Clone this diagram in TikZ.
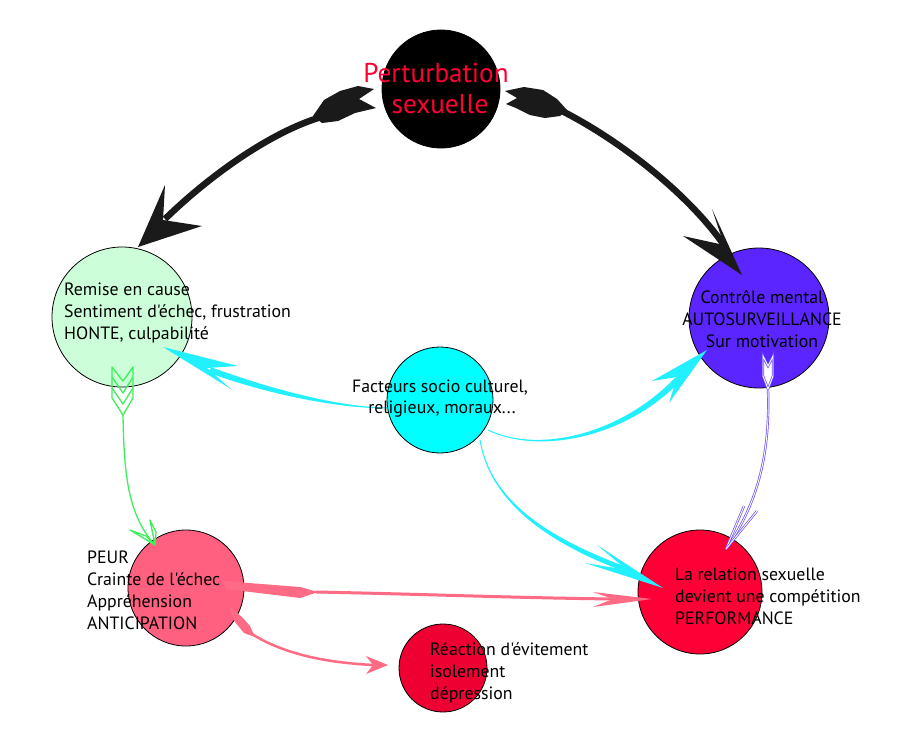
\documentclass[tikz,border=0pt]{standalone}
\usepackage{fontspec}
\newfontfamily\labelfont{PT Sans}
\usetikzlibrary{calc}
\definecolor{titlered}{HTML}{FF0033}
\definecolor{mint}{HTML}{CCFFD9}
\definecolor{violet1}{HTML}{5B25FF}
\definecolor{cyan1}{HTML}{00FFFF}
\definecolor{rose}{HTML}{FF6080}
\definecolor{rosearrow}{HTML}{FF6B85}
\definecolor{crimson}{HTML}{FF0036}
\definecolor{crimson2}{HTML}{EE0033}
\definecolor{greenarrow}{HTML}{3DF05A}
\definecolor{violetarrow}{HTML}{6A4CFF}
\definecolor{darkarrow}{HTML}{1A1A1A}
\definecolor{cyanarrow}{HTML}{22F0FF}
% tapered stroke: #1..#4 bezier points, #5 start half width, #6 end half width, #7 colour
\newcommand\taperfill[7]{%
 \fill[#7] ($(#1)!#5!90:(#2)$) .. controls ($(#2)!#5!-90:(#1)$) and ($(#3)!#6!90:(#4)$) .. ($(#4)!#6!-90:(#3)$) -- ($(#4)!#6!90:(#3)$) .. controls ($(#3)!#6!-90:(#4)$) and ($(#2)!#5!90:(#1)$) .. ($(#1)!#5!-90:(#2)$) -- cycle;}
\begin{document}
\begin{tikzpicture}[x=1pt,y=-1pt,
  bubble/.style={circle,draw=black,line width=0.8pt,inner sep=0pt},
  txt/.style={inner sep=0pt,font=\labelfont\fontsize{17.8}{21}\selectfont,text=black},
  ttl/.style={inner sep=0pt,font=\labelfont\fontsize{27.2}{32}\selectfont,text=titlered},
  darkline/.style={draw=darkarrow,line width=6.5pt},
  darkhead/.style={fill=darkarrow},
  greenline/.style={draw=greenarrow,line width=1.3pt,line join=round},
  violetline/.style={draw=violetarrow,double=white,double distance=0.9pt,line width=0.7pt},
  roseline/.style={draw=rosearrow},
  rosehead/.style={fill=rosearrow},
  cyanhead/.style={fill=cyanarrow}]
\fill[white] (0,0) rectangle (900,734);
\path[use as bounding box] (0,0) rectangle (900,734);

% circles
\node[bubble,fill=black,minimum size=118pt] (pert) at (441,89) {};
\node[bubble,fill=mint,minimum size=140pt] (remise) at (122,317) {};
\node[bubble,fill=violet1,minimum size=140pt] (controle) at (759,318) {};
\node[bubble,fill=cyan1,minimum size=106pt] (facteurs) at (440,400) {};
\node[bubble,fill=rose,minimum size=116pt] (peur) at (186,588) {};
\node[bubble,fill=crimson,minimum size=124pt] (relation) at (700,592) {};
\node[bubble,fill=crimson2,minimum size=88pt] (reaction) at (443,668) {};

% ---- black arrow: pert -> remise
\coordinate (blS) at (318,118);
\coordinate (blE) at (165,219);
\coordinate (blT) at (138,247);
\fill[darkhead] (374,89) -- (358,86) -- (340,91) -- (324,100) -- (313,116) -- (322,123) -- (338,121) -- (355,113) -- (376,108) -- (359,99) -- cycle;
\draw[darkline] (blS) .. controls (265,135) and (205,180) .. (blE);
\fill[darkhead] (blT) -- (165,185) -- (163,220) -- (202,226) -- cycle;

% ---- black arrow: pert -> controle
\coordinate (brS) at (560,110);
\coordinate (brE) at (726,248);
\coordinate (brT) at (742,275);
\fill[darkhead] (505,91) -- (524,87) -- (543,90) -- (557,99) -- (567,110) -- (560,116) -- (545,118) -- (530,115) -- (516,108) -- (506,104) -- (517,98) -- cycle;
\draw[darkline] (brS) .. controls (620,140) and (690,195) .. (brE);
\fill[darkhead] (brT) -- (712,209) -- (724,245) -- (683,236) -- cycle;

% ---- cyan arrow: facteurs -> remise
\coordinate (c1a) at (388,408);
\coordinate (c1b) at (340,408);
\coordinate (c1c) at (270,392);
\coordinate (c1d) at (210,370);
\taperfill{c1a}{c1b}{c1c}{c1d}{0.5pt}{3pt}{cyanarrow}
\fill[cyanhead] (163,347) -- (238,366) -- (207,368) -- (231,389) -- cycle;

% ---- cyan arrow: facteurs -> controle
\coordinate (c2a) at (488,430);
\coordinate (c2b) at (540,455);
\coordinate (c2c) at (625,435);
\coordinate (c2d) at (678,379);
\taperfill{c2a}{c2b}{c2c}{c2d}{0.5pt}{3pt}{cyanarrow}
\fill[cyanhead] (707,350) -- (652,381) -- (677,377) -- (669,403) -- cycle;

% ---- cyan arrow: facteurs -> relation
\coordinate (c3a) at (480,440);
\coordinate (c3b) at (490,500);
\coordinate (c3c) at (545,540);
\coordinate (c3d) at (630,571);
\taperfill{c3a}{c3b}{c3c}{c3d}{0.5pt}{2.5pt}{cyanarrow}
\fill[cyanhead] (663,588) -- (597,545) -- (627,570) -- (585,563) -- cycle;

% ---- green arrow: remise -> peur
\coordinate (gS) at (123,415);
\coordinate (gT) at (155,545);
\draw[greenline] (112,367) -- (112,398) -- (123,415) -- (133,398) -- (133,367) -- (123,381) -- cycle;
\draw[greenline] (112,377) -- (123,393) -- (133,377);
\draw[greenline] (112,388) -- (123,404) -- (133,388);
\draw[greenline] (gS) .. controls (124,475) and (128,515) .. (gT);
\draw[greenline] (gT) -- (130,530) -- (146,536) -- cycle;
\draw[greenline] (gT) -- (150,520) -- (156,532) -- cycle;

% ---- violet arrow: controle -> relation
\coordinate (vS) at (768,389);
\coordinate (vT) at (726,549);
\draw[violetline,fill=white] (763,356) -- (768,366) -- (773,356) -- (773,376) -- (768,389) -- (763,376) -- cycle;
\draw[violetline] (vS) .. controls (770,450) and (760,500) .. (vT);
\draw[violetline] (vT) -- (744,506);
\draw[violetline] (vT) -- (757,511);

% ---- rose arrow: peur -> relation
\coordinate (r1S) at (316,592);
\coordinate (r1E) at (615,599);
\fill[rosehead] (223,581) -- (300,587) -- (318,592) -- (300,598) -- (226,589) -- cycle;
\draw[roseline,line width=3pt] (r1S) .. controls (420,594) and (520,598) .. (r1E);
\fill[rosehead] (652,599) -- (593,592) -- (613,599) -- (593,607) -- cycle;

% ---- rose arrow: peur -> reaction
\coordinate (r2S) at (252,634);
\coordinate (r2E) at (374,665);
\fill[rosehead] (229,606) -- (243,618) -- (250,626) -- (255,637) -- (244,633) -- (235,622) -- cycle;
\draw[roseline,line width=2.5pt] (r2S) .. controls (285,655) and (330,663) .. (r2E);
\fill[rosehead] (388,665) -- (366,656) -- (373,665) -- (366,674) -- cycle;

% ---- texts
\node[ttl,anchor=base] (t1) at (436,82) {Perturbation};
\node[ttl,anchor=base] (t2) at (440,113) {sexuelle};

\node[txt,anchor=base west] (g1) at (64,295) {Remise en cause};
\node[txt,anchor=base west] (g2) at (64,317) {Sentiment d'échec, frustration};
\node[txt,anchor=base west] (g3) at (64,339) {HONTE, culpabilité};

\node[txt,anchor=base] (v1) at (762,303) {Contrôle mental};
\node[txt,anchor=base] (v2) at (762,325) {AUTOSURVEILLANCE};
\node[txt,anchor=base] (v3) at (762,347) {Sur motivation};

\node[txt,anchor=base] (f1) at (440,392) {Facteurs socio culturel,};
\node[txt,anchor=base] (f2) at (442,413) {religieux, moraux...};

\node[txt,anchor=base west] (p1) at (87,563) {PEUR};
\node[txt,anchor=base west] (p2) at (87,585) {Crainte de l'échec};
\node[txt,anchor=base west] (p3) at (87,607) {Appréhension};
\node[txt,anchor=base west] (p4) at (87,629) {ANTICIPATION};

\node[txt,anchor=base west] (l1) at (675,580) {La relation sexuelle};
\node[txt,anchor=base west] (l2) at (675,602) {devient une compétition};
\node[txt,anchor=base west] (l3) at (675,624) {PERFORMANCE};

\node[txt,anchor=base west] (e1) at (430,655) {Réaction d'évitement};
\node[txt,anchor=base west] (e2) at (430,677) {isolement};
\node[txt,anchor=base west] (e3) at (430,699) {dépression};
\end{tikzpicture}
\end{document}
